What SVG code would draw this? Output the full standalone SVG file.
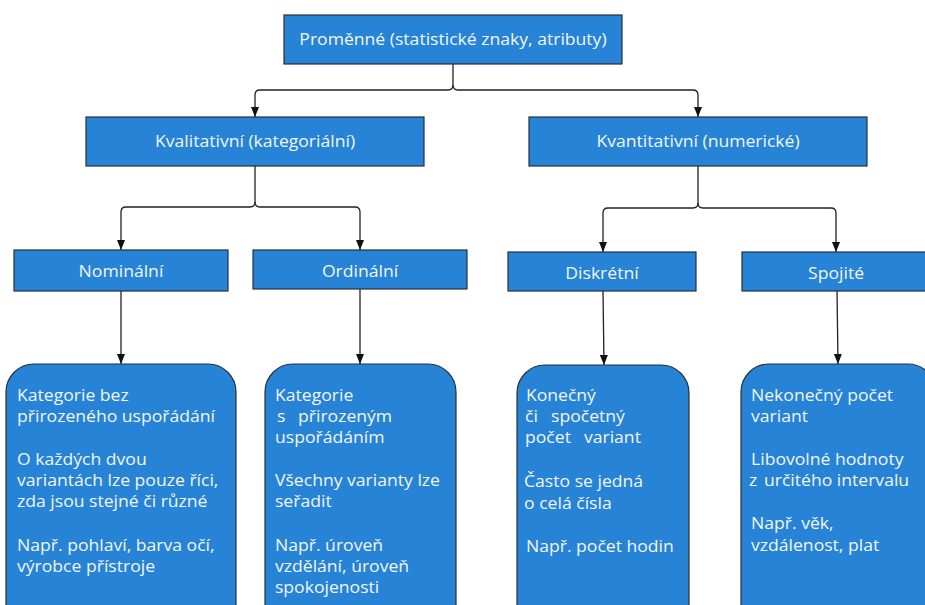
<svg xmlns="http://www.w3.org/2000/svg" width="925" height="605" viewBox="0 0 925 605">
<defs>
<marker id="arr" markerWidth="10" markerHeight="10" viewBox="0 0 10 10" refX="10" refY="5" orient="auto" markerUnits="userSpaceOnUse">
<path d="M0,1 L10,5 L0,9 Z" fill="#111"/>
</marker>
<style>
.box{fill:#2683d6;stroke:#2a2f36;stroke-width:1.2}
.lbl{font-family:"Open Sans","Noto Sans","Liberation Sans",sans-serif;font-size:15.5px;fill:#f2f6fb;transform:scale(1.135,1);transform-origin:0 0}
.c{text-anchor:middle}
.con{fill:none;stroke:#222;stroke-width:1.3;marker-end:url(#arr)}
</style>
</defs>
<rect width="925" height="605" fill="#fff"/>
<g id="connectors">
<path class="con" d="M453,64 V85 Q453,90 448,90 H260 Q255,90 255,95 V117"/>
<path class="con" d="M453,85 Q453,90 458,90 H693 Q698,90 698,95 V117"/>
<path class="con" d="M255,166 V202 Q255,207 250,207 H126 Q121,207 121,212 V250"/>
<path class="con" d="M255,202 Q255,207 260,207 H355 Q360,207 360,212 V250"/>
<path class="con" d="M698,166 V203 Q698,208 693,208 H608 Q603,208 603,213 V252"/>
<path class="con" d="M698,203 Q698,208 703,208 H831 Q836,208 836,213 V252"/>
<path class="con" d="M121,291 V364"/>
<path class="con" d="M360,289 V364"/>
<path class="con" d="M603,291 L604,365"/>
<path class="con" d="M837,291 L838,364"/>
</g>
<g id="n-root">
<rect class="box" x="284" y="15" width="338" height="49"/>
<text class="lbl c" x="399.1" y="45.5">Proměnné (statistické znaky, atributy)</text>
</g>
<g id="n-kval">
<rect class="box" x="86" y="117" width="338" height="49"/>
<text class="lbl c" x="224.7" y="147.5">Kvalitativní (kategoriální)</text>
</g>
<g id="n-kvant">
<rect class="box" x="529" y="117" width="338" height="49"/>
<text class="lbl c" x="615" y="147.5">Kvantitativní (numerické)</text>
</g>
<g id="n-nom">
<rect class="box" x="14" y="250" width="214" height="41"/>
<text class="lbl c" x="106.6" y="277.5">Nominální</text>
</g>
<g id="n-ord">
<rect class="box" x="253" y="250" width="214" height="39"/>
<text class="lbl c" x="317.2" y="277.5">Ordinální</text>
</g>
<g id="n-disk">
<rect class="box" x="508" y="252" width="188" height="39"/>
<text class="lbl c" x="530.4" y="279.5">Diskrétní</text>
</g>
<g id="n-spoj">
<rect class="box" x="742" y="252" width="190" height="39"/>
<text class="lbl c" x="736.6" y="279.5">Spojité</text>
</g>
<g id="n-nom-desc">
<rect class="box" x="6" y="364" width="230" height="270" rx="28"/>
<text class="lbl" x="15" y="401">Kategorie bez</text>
<text class="lbl" x="15" y="422">přirozeného uspořádání</text>
<text class="lbl" x="15" y="465">O každých dvou</text>
<text class="lbl" x="15" y="486">variantách lze pouze říci,</text>
<text class="lbl" x="15" y="507">zda jsou stejné či různé</text>
<text class="lbl" x="15" y="551">Např. pohlaví, barva očí,</text>
<text class="lbl" x="15" y="572">výrobce přístroje</text>
</g>
<g id="n-ord-desc">
<rect class="box" x="265" y="364" width="191" height="270" rx="28"/>
<text class="lbl" x="242.3" y="401">Kategorie</text>
<text class="lbl" x="244.1" y="422">s</text>
<text class="lbl" x="262.6" y="422">přirozeným</text>
<text class="lbl" x="242.3" y="443">uspořádáním</text>
<text class="lbl" x="242.3" y="486">Všechny varianty lze</text>
<text class="lbl" x="242.3" y="507">seřadit</text>
<text class="lbl" x="242.3" y="551">Např. úroveň</text>
<text class="lbl" x="242.3" y="572">vzdělání, úroveň</text>
<text class="lbl" x="242.3" y="593">spokojenosti</text>
</g>
<g id="n-disk-desc">
<rect class="box" x="517" y="365" width="172" height="270" rx="28"/>
<text class="lbl" x="463.4" y="401">Konečný</text>
<text class="lbl" x="462.6" y="422">či</text>
<text class="lbl" x="485.5" y="422">spočetný</text>
<text class="lbl" x="462.6" y="443">počet</text>
<text class="lbl" x="514.5" y="443">variant</text>
<text class="lbl" x="461.7" y="487">Často se jedná</text>
<text class="lbl" x="461.7" y="509">o celá čísla</text>
<text class="lbl" x="463.4" y="552">Např. počet hodin</text>
</g>
<g id="n-spoj-desc">
<rect class="box" x="741" y="364" width="195" height="270" rx="28"/>
<text class="lbl" x="661.7" y="401">Nekonečný počet</text>
<text class="lbl" x="661.7" y="422">variant</text>
<text class="lbl" x="661.7" y="465">Libovolné hodnoty</text>
<text class="lbl" x="659.9" y="486">z</text>
<text class="lbl" x="673.1" y="486">určitého intervalu</text>
<text class="lbl" x="661.7" y="529">Např. věk,</text>
<text class="lbl" x="661.7" y="551">vzdálenost, plat</text>
</g>
</svg>
